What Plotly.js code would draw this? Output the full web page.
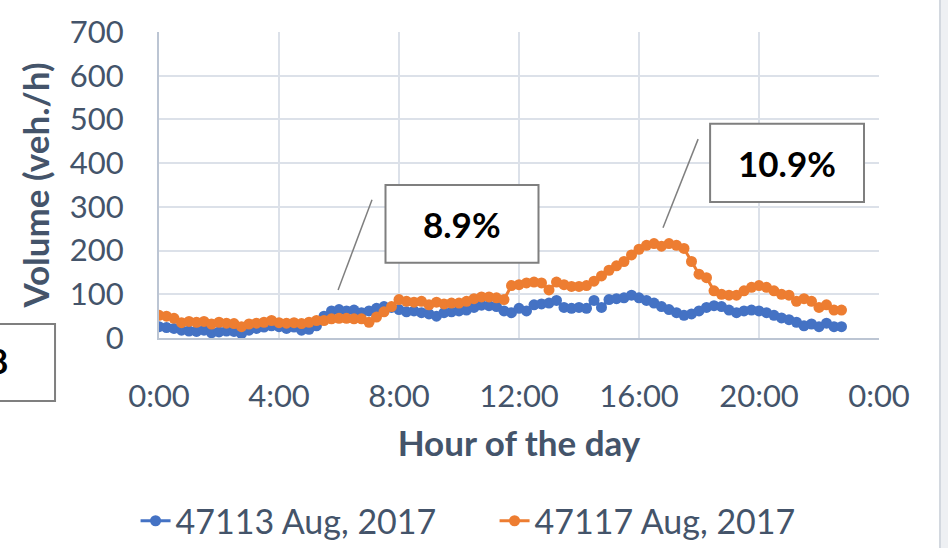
<!DOCTYPE html>
<html>
<head>
<meta charset="utf-8">
<script src="https://cdn.plot.ly/plotly-3.0.1.min.js"></script>
<style>
  html, body { margin: 0; padding: 0; background: #ffffff; }
  #chart { width: 948px; height: 548px; }
</style>
</head>
<body>
<div id="chart"></div>
<script>
// 15-minute counts, 0:00 to 22:45 (veh./h)
const stepHours = 0.25;

const volume47113 = [
  26, 24, 22, 18,   16, 15, 18, 12,   14, 16, 15, 10,   18, 22, 25, 28,
  26, 22, 25, 18,   20, 28, 50, 62,   65, 62, 64, 58,   62, 68, 72, 70,
  65, 60, 62, 58,   55, 50, 58, 60,   62, 64, 70, 75,   74, 72, 62, 58,
  68, 62, 76, 78,   80, 86, 70, 68,   70, 68, 86, 70,   88, 90, 92, 98,
  92, 86, 80, 72,   65, 58, 52, 55,   62, 70, 74, 72,   64, 58, 62, 64,
  62, 58, 52, 46,   42, 36, 28, 32,   26, 34, 26, 26
];

const volume47117 = [
  52, 50, 45, 35,   38, 36, 38, 32,   36, 34, 33, 26,   32, 34, 36, 40,
  35, 34, 35, 33,   36, 40, 40, 44,   45, 45, 44, 44,   36, 48, 60, 72,
  88, 84, 82, 84,   76, 82, 78, 80,   80, 84, 90, 94,   94, 92, 88, 120,
  122, 126, 128, 126, 110, 128, 122, 118, 118, 120, 130, 142, 155, 165, 175, 190,
  203, 212, 216, 210, 216, 212, 205, 175, 146, 138, 108, 100, 98, 98, 108, 116,
  120, 116, 108, 100, 98, 84, 90, 84,   70, 76, 64, 64
];

const seriesNames = ['47113 Aug, 2017', '47117 Aug, 2017'];
const seriesColors = ['#4472C4', '#ED7D31'];

const tickHours = [0, 4, 8, 12, 16, 20, 24];
const tickLabels = ['0:00', '4:00', '8:00', '12:00', '16:00', '20:00', '0:00'];

// callout labels: text, box corners (hour, volume), leader line ends
const callouts = [
  { text: '8.9%', box: [7.55, 172, 12.65, 350], line: [5.97, 110, 7.1, 316] },
  { text: '10.9%', box: [18.37, 311, 23.5, 490], line: [16.8, 252, 17.97, 455] }
];

const hours = volume47113.map((_, i) => i * stepHours);

const textColor = '#44546A';
const gridColor = '#DCE1E9';
const axisColor = '#BCC5D3';

const traces = [volume47113, volume47117].map((vals, k) => ({
  x: hours,
  y: vals,
  type: 'scatter',
  mode: 'lines+markers',
  name: seriesNames[k],
  line: { color: seriesColors[k], width: 3 },
  marker: { color: seriesColors[k], size: 11 },
  hoverinfo: 'x+y'
}));

const shapes = [];
const annotations = [];

callouts.forEach(c => {
  shapes.push({
    type: 'line', xref: 'x', yref: 'y',
    x0: c.line[0], y0: c.line[1], x1: c.line[2], y1: c.line[3],
    line: { color: '#7F7F7F', width: 1.5 }, layer: 'above'
  });
  shapes.push({
    type: 'rect', xref: 'x', yref: 'y',
    x0: c.box[0], y0: c.box[1], x1: c.box[2], y1: c.box[3],
    fillcolor: '#FFFFFF', line: { color: '#7F7F7F', width: 2 }, layer: 'above'
  });
  annotations.push({
    xref: 'x', yref: 'y',
    x: (c.box[0] + c.box[2]) / 2, y: (c.box[1] + c.box[3]) / 2,
    text: '<b>' + c.text + '</b>', showarrow: false,
    font: { family: 'Lato', size: 35, color: '#000000' },
    xanchor: 'center', yanchor: 'middle'
  });
});

// neighbouring callout box cut off at the left edge
shapes.push({
  type: 'rect', xref: 'paper', yref: 'paper',
  x0: -0.235, y0: -0.206, x1: -0.1444, y1: 0.046,
  fillcolor: '#FFFFFF', line: { color: '#7F7F7F', width: 2 }, layer: 'above'
});
annotations.push({
  xref: 'paper', yref: 'paper', x: -0.2236, y: -0.072,
  text: '<b>8</b>', showarrow: false,
  font: { family: 'Lato', size: 35, color: '#000000' },
  xanchor: 'center', yanchor: 'middle'
});

// page edge on the right
shapes.push({
  type: 'rect', xref: 'paper', yref: 'paper',
  x0: 1.0847, x1: 1.12, y0: -0.7, y1: 1.2,
  fillcolor: '#EEF0F3', line: { color: '#D3D8DF', width: 2 }, layer: 'below'
});

const layout = {
  width: 948,
  height: 548,
  margin: { l: 159, r: 69, t: 32, b: 210 },
  paper_bgcolor: '#FFFFFF',
  plot_bgcolor: '#FFFFFF',
  font: { family: 'Lato', size: 31, color: textColor },
  showlegend: true,
  legend: {
    orientation: 'h',
    xref: 'container', yref: 'container',
    x: 0.143, xanchor: 'left',
    y: 0.049, yanchor: 'middle',
    entrywidth: 314,
    font: { family: 'Lato', size: 34, color: textColor },
    bgcolor: 'rgba(0,0,0,0)'
  },
  xaxis: {
    range: [0, 24],
    tickvals: tickHours,
    ticktext: tickLabels,
    showgrid: true,
    gridcolor: gridColor,
    gridwidth: 2,
    showline: true,
    linecolor: axisColor,
    linewidth: 2,
    ticks: '',
    ticklabelstandoff: 30,
    zeroline: false,
    automargin: false,
    title: {
      text: '<b>Hour of the day</b>',
      font: { family: 'Lato', size: 35, color: textColor },
      standoff: 18
    }
  },
  yaxis: {
    range: [0, 700],
    dtick: 100,
    showgrid: true,
    gridcolor: gridColor,
    gridwidth: 2,
    showline: true,
    linecolor: axisColor,
    linewidth: 2,
    ticks: '',
    ticklabelstandoff: 27,
    zeroline: false,
    automargin: false,
    title: {
      text: '<b>Volume (veh./h)</b>',
      font: { family: 'Lato', size: 35, color: textColor },
      standoff: 10
    }
  },
  shapes: shapes,
  annotations: annotations
};

Plotly.newPlot('chart', traces, layout, { displayModeBar: false, responsive: false });
</script>
</body>
</html>
